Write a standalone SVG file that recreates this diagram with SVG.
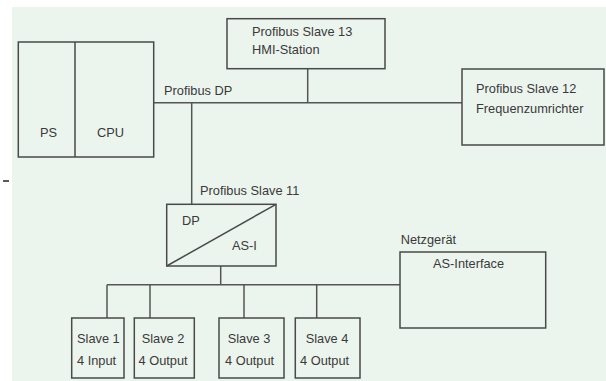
<svg xmlns="http://www.w3.org/2000/svg" width="606" height="381" viewBox="0 0 606 381">
<style>
.b{fill:none;stroke:#4a4a4a;stroke-width:1.5}
.c{fill:none;stroke:#555;stroke-width:1.5}
text{font-family:"Liberation Sans",Arial,sans-serif;font-size:12.8px;fill:#3a3a3a}
</style>
<rect x="0" y="0" width="606" height="381" fill="#ffffff"/>
<rect x="12" y="7" width="594" height="374" fill="#ecf4ee"/>
<line x1="3" y1="181" x2="9" y2="181" stroke="#222" stroke-width="1.5"/>
<g id="connectors">
<path class="c" d="M153.7,102.7H462"/>
<path class="c" d="M307.7,68.7V102.7"/>
<path class="c" d="M191.7,102.7V204.3"/>
<path class="c" d="M220.7,266V284.7"/>
<path class="c" d="M107,284.7H400"/>
<path class="c" d="M107,284.7V318M150,284.7V318M244,284.7V318M316.7,284.7V318"/>
</g>
<g id="plc">
<rect class="b" x="18.3" y="42" width="135.4" height="115"/>
<line class="b" x1="75" y1="42" x2="75" y2="157"/>
<text x="40" y="137">PS</text>
<text x="97" y="137">CPU</text>
</g>
<text x="164" y="95">Profibus DP</text>
<g id="slave13">
<rect class="b" x="227" y="18.7" width="158" height="50"/>
<text x="252" y="36">Profibus Slave 13</text>
<text x="252" y="54">HMI-Station</text>
</g>
<g id="slave12">
<rect class="b" x="462" y="69" width="142" height="76"/>
<text x="476" y="93.3">Profibus Slave 12</text>
<text x="476" y="112.5">Frequenzumrichter</text>
</g>
<g id="slave11">
<text x="200" y="195">Profibus Slave 11</text>
<rect class="b" x="166.7" y="204.3" width="109.3" height="61.7"/>
<line class="b" x1="166.7" y1="266" x2="276" y2="204.3"/>
<text x="182" y="225">DP</text>
<text x="232" y="250">AS-I</text>
</g>
<g id="netzgeraet">
<text x="400.7" y="244">Netzgerät</text>
<rect class="b" x="400" y="252" width="145.7" height="76"/>
<text x="433" y="268">AS-Interface</text>
</g>
<g id="slave1">
<rect class="b" x="71.7" y="318" width="52.3" height="60"/>
<text x="77" y="343">Slave 1</text>
<text x="77" y="364.5">4 Input</text>
</g>
<g id="slave2">
<rect class="b" x="134.3" y="318" width="60" height="60"/>
<text x="141.7" y="343">Slave 2</text>
<text x="138.5" y="364.5">4 Output</text>
</g>
<g id="slave3">
<rect class="b" x="219" y="318" width="65" height="60"/>
<text x="227.7" y="343">Slave 3</text>
<text x="225" y="364.5">4 Output</text>
</g>
<g id="slave4">
<rect class="b" x="295.3" y="318" width="64.7" height="60"/>
<text x="305.7" y="343">Slave 4</text>
<text x="300" y="364.5">4 Output</text>
</g>
</svg>
